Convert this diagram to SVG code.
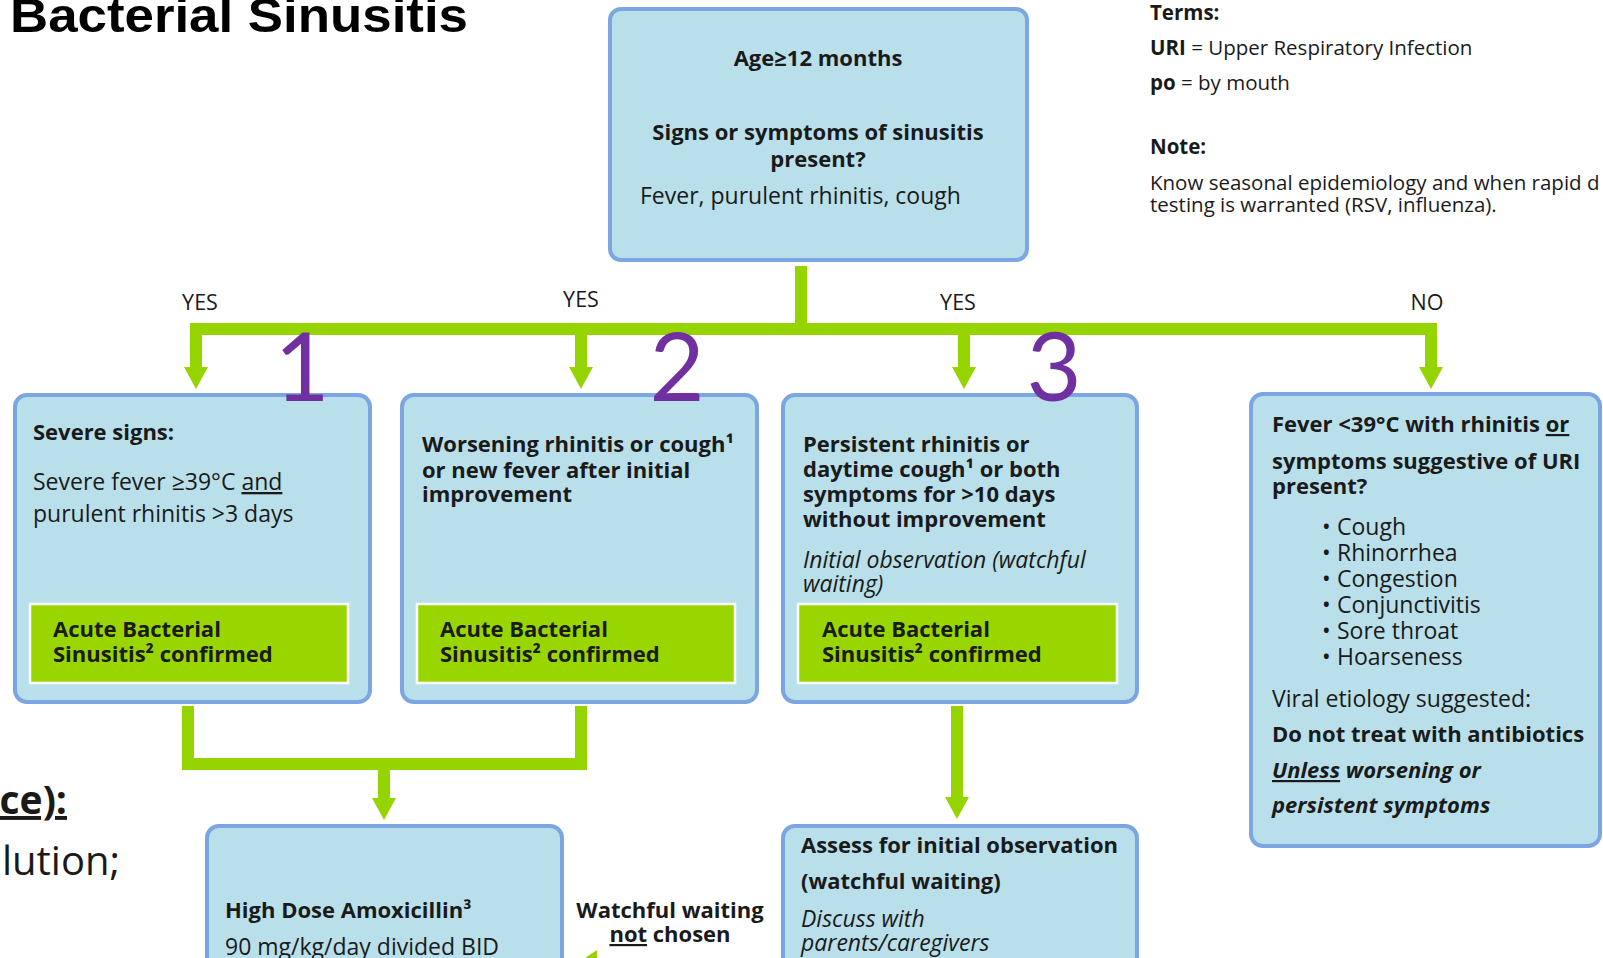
<svg xmlns="http://www.w3.org/2000/svg" width="1603" height="958" viewBox="0 0 1603 958">
  <style>
    .box { fill: #b9e0ea; stroke: #7ba6e2; stroke-width: 4; }
    .ok { fill: #99d600; stroke: #ffffff; stroke-width: 2.5; }
    .t { font-family: "Open Sans", "Liberation Sans", sans-serif; font-size: 23px; fill: #1a1a1a; }
    .b { font-weight: bold; font-size: 22px; }
    .i { font-style: italic; }
    .sm { font-size: 20.5px; }
    .lbl { font-size: 21.5px; }
    .c { text-anchor: middle; }
    .u { text-decoration: underline; }
    .num { font-family: Lato, "Open Sans", sans-serif; font-size: 95px; fill: #7030a0; text-anchor: middle; }
    .wire { fill: none; stroke: #96d400; stroke-width: 12; stroke-linejoin: miter; }
  </style>
  <defs>
    <marker id="head" markerUnits="userSpaceOnUse" viewBox="0 0 22 24" markerWidth="22" markerHeight="24" refX="0" refY="12" orient="auto">
      <path d="M0 0 L22 12 L0 24 Z" fill="#96d400"/>
    </marker>
    <marker id="head-lg" markerUnits="userSpaceOnUse" viewBox="0 0 24 32" markerWidth="24" markerHeight="32" refX="0" refY="16" orient="auto">
      <path d="M0 0 L24 16 L0 32 Z" fill="#96d400"/>
    </marker>
  </defs>

  <rect width="1603" height="958" fill="#ffffff"/>

  <!-- heading -->
  <text x="10" y="32" font-family="'Liberation Sans', Arial, sans-serif" font-weight="bold" font-size="49" textLength="458" lengthAdjust="spacingAndGlyphs" fill="#000">Bacterial Sinusitis</text>

  <!-- side notes, partly outside the page -->
  <g id="side-notes" class="t">
    <text x="67" y="814" text-anchor="end" font-weight="bold" font-size="39" class="u">ce):</text>
    <text x="120" y="875" text-anchor="end" font-size="40">lution;</text>
  </g>

  <!-- terms and note -->
  <g id="terms" class="t sm">
    <text x="1150" y="20" font-weight="bold">Terms:</text>
    <text x="1150" y="55"><tspan font-weight="bold">URI</tspan> = Upper Respiratory Infection</text>
    <text x="1150" y="90"><tspan font-weight="bold">po</tspan> = by mouth</text>
    <text x="1150" y="154" font-weight="bold">Note:</text>
    <text x="1150" y="190">Know seasonal epidemiology and when rapid d</text>
    <text x="1150" y="212">testing is warranted (RSV, influenza).</text>
  </g>

  <!-- connectors -->
  <g id="connectors">
    <path class="wire" d="M801 266 V329"/>
    <path class="wire" d="M190 329 H1437"/>
    <path class="wire" d="M196 323 V367" marker-end="url(#head)"/>
    <path class="wire" d="M581 329 V367" marker-end="url(#head)"/>
    <path class="wire" d="M964 329 V367" marker-end="url(#head)"/>
    <path class="wire" d="M1431 323 V367" marker-end="url(#head)"/>
    <path class="wire" d="M188 706 V764 H581 V706"/>
    <path class="wire" d="M384 770 V798" marker-end="url(#head)"/>
    <path class="wire" d="M957 706 V797" marker-end="url(#head)"/>
    <path class="wire" d="M760 966 H597" marker-end="url(#head-lg)"/>
    <g class="t lbl">
      <text x="200" y="310" class="c">YES</text>
      <text x="581" y="307" class="c">YES</text>
      <text x="958" y="310" class="c">YES</text>
      <text x="1427" y="310" class="c">NO</text>
    </g>
  </g>

  <!-- start question -->
  <g id="node-start">
    <rect class="box" x="610" y="9" width="417" height="251" rx="11"/>
    <text class="t b c" x="818" y="66">Age≥12 months</text>
    <text class="t b c" x="818" y="140">Signs or symptoms of sinusitis</text>
    <text class="t b c" x="818" y="167">present?</text>
    <text class="t" x="640" y="204">Fever, purulent rhinitis, cough</text>
  </g>

  <!-- branch 1 -->
  <g id="node-severe">
    <rect class="box" x="15" y="395" width="355" height="307" rx="12"/>
    <text class="t b" x="33" y="440">Severe signs:</text>
    <text class="t" x="33" y="490">Severe fever ≥39°C <tspan class="u">and</tspan></text>
    <text class="t" x="33" y="522">purulent rhinitis &gt;3 days</text>
    <rect class="ok" x="30" y="604" width="318" height="79"/>
    <text class="t b" x="53" y="637">Acute Bacterial</text>
    <text class="t b" x="53" y="662">Sinusitis² confirmed</text>
  </g>

  <!-- branch 2 -->
  <g id="node-worsening">
    <rect class="box" x="402" y="395" width="355" height="307" rx="12"/>
    <text class="t b" x="422" y="452">Worsening rhinitis or cough¹</text>
    <text class="t b" x="422" y="478">or new fever after initial</text>
    <text class="t b" x="422" y="502">improvement</text>
    <rect class="ok" x="417" y="604" width="318" height="79"/>
    <text class="t b" x="440" y="637">Acute Bacterial</text>
    <text class="t b" x="440" y="662">Sinusitis² confirmed</text>
  </g>

  <!-- branch 3 -->
  <g id="node-persistent">
    <rect class="box" x="783" y="395" width="354" height="307" rx="12"/>
    <text class="t b" x="803" y="452">Persistent rhinitis or</text>
    <text class="t b" x="803" y="477">daytime cough¹ or both</text>
    <text class="t b" x="803" y="502">symptoms for &gt;10 days</text>
    <text class="t b" x="803" y="527">without improvement</text>
    <text class="t i" x="803" y="568">Initial observation (watchful</text>
    <text class="t i" x="803" y="592">waiting)</text>
    <rect class="ok" x="798" y="604" width="319" height="79"/>
    <text class="t b" x="822" y="637">Acute Bacterial</text>
    <text class="t b" x="822" y="662">Sinusitis² confirmed</text>
  </g>

  <!-- branch 4 -->
  <g id="node-viral">
    <rect class="box" x="1251" y="394" width="349" height="452" rx="12"/>
    <text class="t b" x="1272" y="432">Fever &lt;39°C with rhinitis <tspan class="u">or</tspan></text>
    <text class="t b" x="1272" y="469">symptoms suggestive of URI</text>
    <text class="t b" x="1272" y="494">present?</text>
    <g class="t">
      <text x="1322" y="535">•</text><text x="1337" y="535">Cough</text>
      <text x="1322" y="561">•</text><text x="1337" y="561">Rhinorrhea</text>
      <text x="1322" y="587">•</text><text x="1337" y="587">Congestion</text>
      <text x="1322" y="613">•</text><text x="1337" y="613">Conjunctivitis</text>
      <text x="1322" y="639">•</text><text x="1337" y="639">Sore throat</text>
      <text x="1322" y="665">•</text><text x="1337" y="665">Hoarseness</text>
    </g>
    <text class="t" x="1272" y="707">Viral etiology suggested:</text>
    <text class="t b" x="1272" y="742">Do not treat with antibiotics</text>
    <text class="t b i" x="1272" y="778"><tspan class="u">Unless</tspan> worsening or</text>
    <text class="t b i" x="1272" y="813">persistent symptoms</text>
  </g>

  <!-- treatment -->
  <g id="node-amoxicillin">
    <rect class="box" x="207" y="826" width="355" height="200" rx="12"/>
    <text class="t b" x="225" y="918">High Dose Amoxicillin³</text>
    <text class="t" x="225" y="955">90 mg/kg/day divided BID</text>
  </g>

  <!-- watchful waiting label -->
  <g id="label-not-chosen" class="t">
    <text class="b c" x="670" y="918" font-size="19.5">Watchful waiting</text>
    <text class="b c" x="670" y="942" font-size="19.5"><tspan class="u">not</tspan> chosen</text>
  </g>

  <!-- observation -->
  <g id="node-observation">
    <rect class="box" x="783" y="826" width="354" height="200" rx="12"/>
    <text class="t b" x="801" y="853">Assess for initial observation</text>
    <text class="t b" x="801" y="889">(watchful waiting)</text>
    <text class="t i" x="801" y="927">Discuss with</text>
    <text class="t i" x="801" y="951">parents/caregivers</text>
  </g>

  <!-- step numbers, drawn over the boxes -->
  <g id="step-numbers">
    <text class="num" x="302" y="401">1</text>
    <text class="num" x="677" y="401">2</text>
    <text class="num" x="1054" y="401">3</text>
  </g>
</svg>
